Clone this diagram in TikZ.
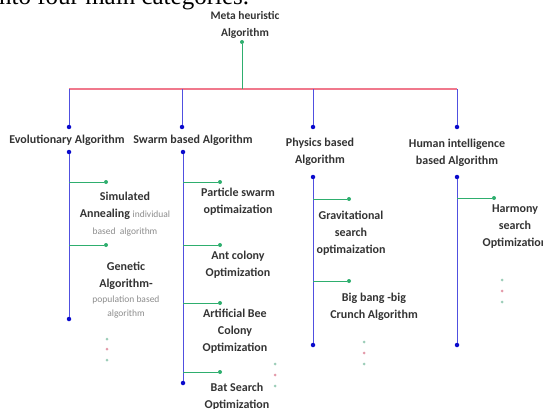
\documentclass[tikz,border=0pt]{standalone}
\usepackage{fontspec}
\setmainfont{Carlito}
\newfontfamily\introface{Liberation Serif}
\definecolor{barred}{HTML}{F0788C}
\definecolor{stemblue}{HTML}{5050E0}
\definecolor{jointblue}{HTML}{0A0ACC}
\definecolor{leafgreen}{HTML}{2EAE6E}
\definecolor{labelgray}{HTML}{333333}
\definecolor{notegray}{HTML}{8C8C8C}
\definecolor{moreteal}{HTML}{9CCDB8}
\definecolor{morepink}{HTML}{E39AAA}
\usetikzlibrary{positioning}
\newcommand{\notetext}[1]{{\fontsize{9.5}{14}\selectfont\color{notegray}\mdseries #1}}

\begin{document}
\begin{tikzpicture}[x=1pt, y=-1pt,
  head/.style={font=\bfseries\fontsize{12}{17}\selectfont, text=labelgray, align=center, inner sep=0pt},
  joint/.style={circle, fill=jointblue, inner sep=0pt, minimum size=4.5pt},
  leaf/.style={circle, fill=leafgreen, inner sep=0pt, minimum size=4pt},
  more/.style={circle, inner sep=0pt, minimum size=3pt},
  stem/.style={stemblue, line width=1pt},
  twig/.style={leafgreen, line width=1pt},
  bar/.style={barred, line width=1.4pt}]
\useasboundingbox (0,0) rectangle (543,409);
\clip (0,0) rectangle (543,409);
\node[anchor=base west, inner sep=0pt, font=\introface\fontsize{25}{25}\selectfont] (intro) at (-8,5) {into four main categories.};
% root
\node[head, anchor=north, font=\bfseries\fontsize{11.5}{17}\selectfont] (root) at (245,11) {Meta heuristic\\Algorithm};
\node[leaf] (rootdot) at (242,42) {};
\coordinate (rootjoin) at (242,89);
\coordinate (evtop) at (69,89);
\coordinate (swtop) at (182,89);
\coordinate (phtop) at (313,89);
\coordinate (hutop) at (457,89);
\draw[bar] (evtop) -- (hutop);
\draw[twig] (rootdot) -- (rootjoin);
% categories
\node[joint] (evdot) at (69,127) {};
\node[joint] (swdot) at (182,127) {};
\node[joint] (phdot) at (313,127) {};
\node[joint] (hudot) at (457,127) {};
\draw[stem] (evtop) -- (evdot);
\draw[stem] (swtop) -- (swdot);
\draw[stem] (phtop) -- (phdot);
\draw[stem] (hutop) -- (hudot);
\node[head] (evlabel) at (67,140) {Evolutionary Algorithm};
\node[head] (swlabel) at (193,140) {Swarm based Algorithm};
\node[head, anchor=north] (phlabel) at (320,138) {Physics based\\Algorithm};
\node[head, anchor=north] (hulabel) at (457,139) {Human intelligence\\based Algorithm};
% evolutionary
\node[joint] (evstart) at (69,152) {};
\node[joint] (evend) at (69,319) {};
\draw[stem] (evstart) -- (evend);
\coordinate (ev1) at (69,182);
\coordinate (ev2) at (69,245);
\node[leaf] (ev1dot) at (106,182) {};
\node[leaf] (ev2dot) at (106,245) {};
\draw[twig] (ev1) -- (ev1dot);
\draw[twig] (ev2) -- (ev2dot);
\node[head, anchor=north] (evsa) at (125,192) {Simulated\\Annealing \notetext{individual}\\\notetext{based\ \ algorithm}};
\node[head, anchor=north] (evga) at (126,262) {Genetic\\Algorithm-\\[-2pt]\notetext{population based}\\[-3pt]\notetext{algorithm}};
\node[more, fill=moreteal] (evmore1) at (107,339) {};
\node[more, fill=morepink] (evmore2) at (107,349) {};
\node[more, fill=moreteal] (evmore3) at (107,360) {};
% swarm
\node[joint] (swstart) at (183,152) {};
\node[joint] (swend) at (183,383) {};
\draw[stem] (swstart) -- (swend);
\coordinate (sw1) at (183,182);
\coordinate (sw2) at (183,245);
\coordinate (sw3) at (183,303);
\coordinate (sw4) at (183,372);
\node[leaf] (sw1dot) at (220,182) {};
\node[leaf] (sw2dot) at (220,245) {};
\node[leaf] (sw3dot) at (220,303) {};
\node[leaf] (sw4dot) at (220,372) {};
\draw[twig] (sw1) -- (sw1dot);
\draw[twig] (sw2) -- (sw2dot);
\draw[twig] (sw3) -- (sw3dot);
\draw[twig] (sw4) -- (sw4dot);
\node[head, anchor=north] (swpso) at (238,188) {Particle swarm\\optimaization};
\node[head, anchor=north] (swaco) at (238,251) {Ant colony\\Optimization};
\node[head, anchor=north] (swabc) at (235,309) {Artificial Bee\\Colony\\Optimization};
\node[head, anchor=north] (swbat) at (237,383) {Bat Search\\Optimization};
\node[more, fill=moreteal] (swmore1) at (275,364) {};
\node[more, fill=morepink] (swmore2) at (275,375) {};
\node[more, fill=moreteal] (swmore3) at (275,386) {};
% physics
\node[joint] (phstart) at (313,177) {};
\node[joint] (phend) at (313,345) {};
\draw[stem] (phstart) -- (phend);
\coordinate (ph1) at (313,199);
\coordinate (ph2) at (313,281);
\node[leaf] (ph1dot) at (349,199) {};
\node[leaf] (ph2dot) at (349,281) {};
\draw[twig] (ph1) -- (ph1dot);
\draw[twig] (ph2) -- (ph2dot);
\node[head, anchor=north] (phgsa) at (351,211) {Gravitational\\search\\optimaization};
\node[head, anchor=north] (phbb) at (374,293) {Big bang -big\\Crunch Algorithm};
\node[more, fill=moreteal] (phmore1) at (364,342) {};
\node[more, fill=morepink] (phmore2) at (364,353) {};
\node[more, fill=moreteal] (phmore3) at (364,364) {};
% human
\node[joint] (hustart) at (457,177) {};
\node[joint] (huend) at (457,345) {};
\draw[stem] (hustart) -- (huend);
\coordinate (hu1) at (457,198);
\node[leaf] (hu1dot) at (494,198) {};
\draw[twig] (hu1) -- (hu1dot);
\node[head, anchor=north] (huhs) at (515,205) {Harmony\\search\\Optimization};
\node[more, fill=moreteal] (humore1) at (502,280) {};
\node[more, fill=morepink] (humore2) at (502,291) {};
\node[more, fill=moreteal] (humore3) at (502,302) {};
\end{tikzpicture}
\end{document}
